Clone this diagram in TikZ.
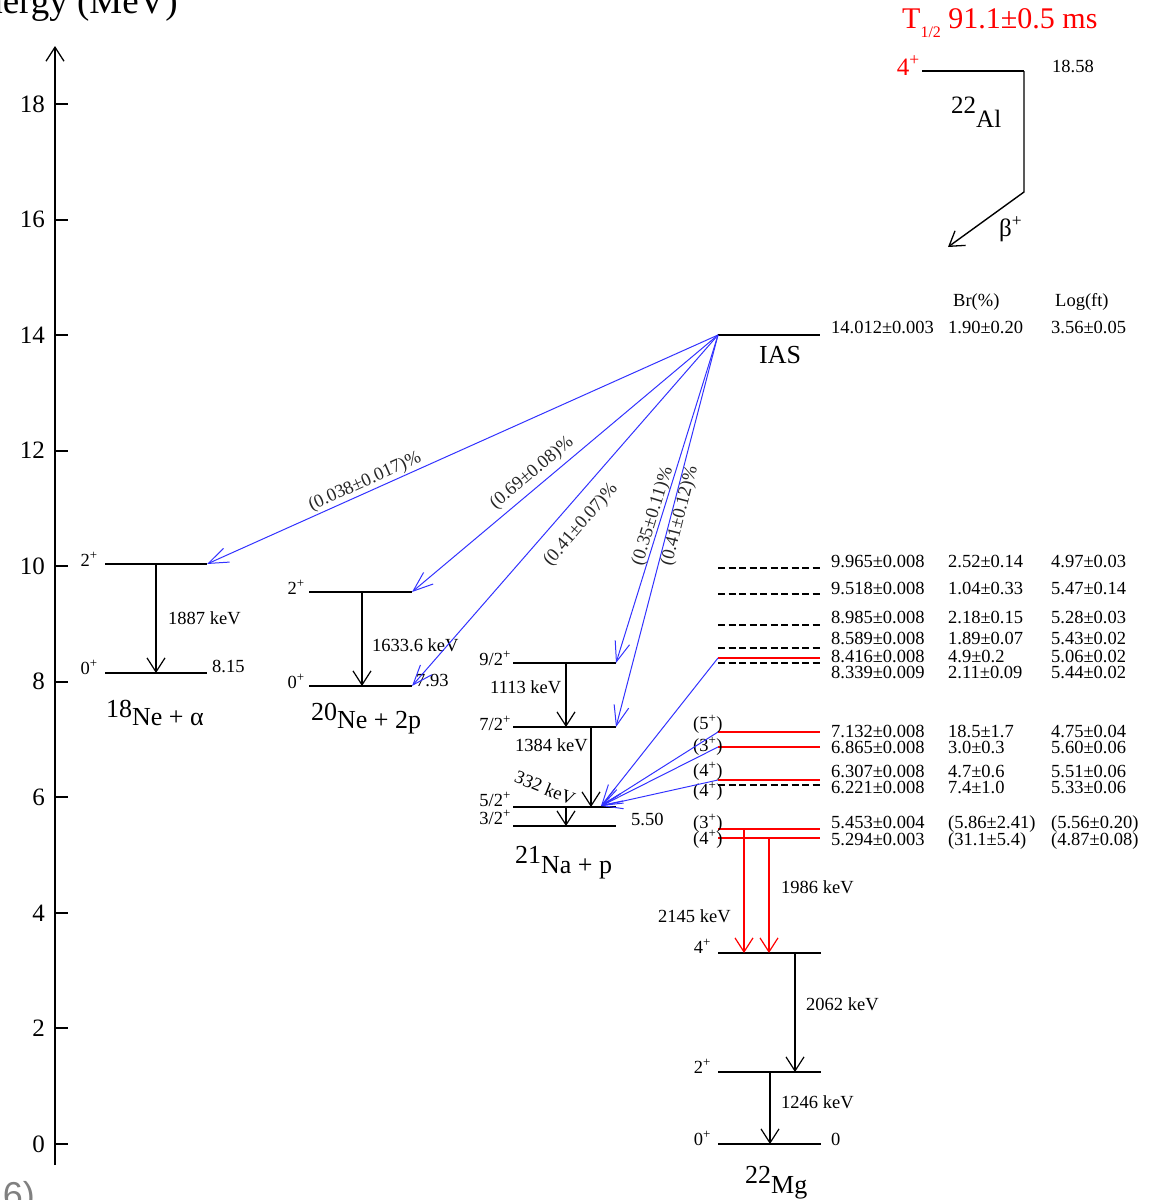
\documentclass[tikz,border=0pt]{standalone}
\usepackage{fontspec}
\setmainfont{Liberation Serif}
\newfontfamily\greysans{Liberation Sans}
\usetikzlibrary{arrows.meta}
\definecolor{bl}{RGB}{50,50,255}
\definecolor{rd}{RGB}{255,0,0}
\newcommand\szS{\fontsize{18.5}{19}\selectfont}
\newcommand\szT{\fontsize{25}{25}\selectfont}
\newcommand\szL{\fontsize{26}{26}\selectfont}
\newcommand\spn[1]{#1\textsuperscript{+}}
\newcommand\isot[3]{\raisebox{#3}{#1}#2}
\begin{document}
\begin{tikzpicture}[x=1pt,y=-1pt,
  tx/.style={inner sep=0pt, font=\szS},
  big/.style={inner sep=0pt, font=\szL},
  lvl/.style={line width=1.5pt},
  dlvl/.style={line width=1.5pt, dash pattern=on 7pt off 3.5pt},
  rlvl/.style={line width=2pt, draw=rd},
  gam/.style={line width=1.2pt, -{Straight Barb[length=14pt,width=18pt,line width=1.2pt]}},
  rgam/.style={gam, draw=rd},
  bdec/.style={line width=1pt, draw=bl, -{Straight Barb[length=20pt,width=15pt,line width=1pt]}},
  blab/.style={inner sep=0pt, font=\szS, text=black!85},
]
\useasboundingbox (0,0) rectangle (1149,1200);
\clip (0,0) rectangle (1149,1200);

% ---------- axis ----------
\node[inner sep=0pt, font=\fontsize{37}{37}\selectfont, anchor=base east] (axt) at (178,13) {Energy (MeV)};
\coordinate (ax0) at (55,1165);
\coordinate (ax1) at (55,46);
\draw[line width=1.5pt, -{Straight Barb[length=14pt,width=18pt,line width=1.3pt]}] (ax0) -- (ax1);
\foreach \e in {0,2,...,18}{
  \draw[line width=1.5pt] (55,{round(1144-57.78*\e)}) -- (68,{round(1144-57.78*\e)});
  \node[inner sep=0pt, font=\szT, anchor=east] (tk\e) at (45,{1144-57.78*\e}) {\e};
}
\node[inner sep=0pt, font=\greysans\fontsize{36}{36}\selectfont, text=black!50, anchor=base east] (g6) at (35,1207) {6)};

% ---------- 22Al ----------
\node[inner sep=0pt, font=\fontsize{30}{30}\selectfont, text=rd, anchor=base west] (thalf) at (902,28)
  {T\raisebox{-9pt}{\fontsize{16}{16}\selectfont 1/2} 91.1±0.5 ms};
\node[inner sep=0pt, font=\fontsize{25}{25}\selectfont, text=rd, anchor=base east] (alsp) at (920,75) {\spn{4}};
\coordinate (al-l) at (922,71);
\coordinate (al-r) at (1024,71);
\coordinate (al-c) at (1024,192);
\coordinate (al-t) at (948,247);
\draw[lvl] (al-l) -- (al-r);
\draw[line width=1.4pt, -{Straight Barb[length=14pt,width=18pt,line width=1.3pt]}] (al-r) -- (al-c) -- (al-t);
\node[tx, anchor=base west] (ale) at (1052,72) {18.58};
\node[inner sep=0pt, font=\fontsize{25}{25}\selectfont, anchor=base west] (alname) at (951,127) {\isot{22}{Al}{14pt}};
\node[inner sep=0pt, font=\fontsize{25}{25}\selectfont, anchor=base west] (beta) at (999,236) {β\textsuperscript{+}};

% ---------- IAS ----------
\coordinate (ias-l) at (718,335);
\coordinate (ias-r) at (820,335);
\draw[lvl] (ias-l) -- (ias-r);
\node[big, anchor=base west] (iasn) at (759,363) {IAS};
\node[tx, anchor=base west] (hbr) at (953,306) {Br(\%)};
\node[tx, anchor=base west] (hlg) at (1055,306) {Log(ft)};
\node[tx, anchor=base west] (iase) at (831,333) {14.012±0.003};
\node[tx, anchor=base west] (iasb) at (948,333) {1.90±0.20};
\node[tx, anchor=base west] (iasg) at (1051,333) {3.56±0.05};

% ---------- 22Mg levels above threshold ----------
\foreach \n/\yy/\st in {a/568/dlvl, b/594/dlvl, c/625/dlvl, d/648/dlvl, e/658/rlvl, f/663/dlvl,
                        g/732/rlvl, h/747/rlvl, i/780/rlvl, j/785/dlvl, k/829/rlvl, m/838/rlvl}{
  \coordinate (L\n) at (718,\yy);
  \coordinate (R\n) at (820,\yy);
  \draw[\st] (L\n) -- (R\n);
}
\foreach \yy/\en/\br/\lg [count=\i] in {
   567/9.965±0.008/2.52±0.14/4.97±0.03,
   594/9.518±0.008/1.04±0.33/5.47±0.14,
   623/8.985±0.008/2.18±0.15/5.28±0.03,
   644/8.589±0.008/1.89±0.07/5.43±0.02,
   662/8.416±0.008/4.9±0.2/5.06±0.02,
   678/8.339±0.009/2.11±0.09/5.44±0.02,
   737/7.132±0.008/18.5±1.7/4.75±0.04,
   753/6.865±0.008/3.0±0.3/5.60±0.06,
   777/6.307±0.008/4.7±0.6/5.51±0.06,
   793/6.221±0.008/7.4±1.0/5.33±0.06,
   828/5.453±0.004/(5.86±2.41)/(5.56±0.20),
   845/5.294±0.003/(31.1±5.4)/(4.87±0.08)}{
  \node[tx, anchor=base west] (te\i) at (831,\yy) {\en};
  \node[tx, anchor=base west] (tb\i) at (948,\yy) {\br};
  \node[tx, anchor=base west] (tl\i) at (1051,\yy) {\lg};
}
\foreach \yy/\s [count=\i] in {729/5, 751/3, 776/4, 796/4, 828/3, 844/4}{
  \node[tx, anchor=base west] (sp\i) at (693,\yy) {(\spn{\s})};
}

% ---------- 22Mg bound levels ----------
\coordinate (mg4l) at (718,953); \coordinate (mg4r) at (821,953);
\coordinate (mg2l) at (718,1072);  \coordinate (mg2r) at (821,1072);
\coordinate (mg0l) at (718,1144);  \coordinate (mg0r) at (821,1144);
\draw[lvl] (mg4l) -- (mg4r);
\draw[lvl] (mg2l) -- (mg2r);
\draw[lvl] (mg0l) -- (mg0r);
\node[tx, anchor=base east] (mgs4) at (711,953) {\spn{4}};
\node[tx, anchor=base east] (mgs2) at (711,1073) {\spn{2}};
\node[tx, anchor=base east] (mgs0) at (711,1145) {\spn{0}};
\node[tx, anchor=base west] (mge0) at (831,1145) {0};
\node[inner sep=0pt, font=\fontsize{26}{26}\selectfont, anchor=base west] (mgname) at (745,1193) {\isot{22}{Mg}{10pt}};
\coordinate (rg1s) at (744,829); \coordinate (rg1e) at (744,953);
\coordinate (rg2s) at (769,838); \coordinate (rg2e) at (769,953);
\draw[rgam] (rg1s) -- (rg1e);
\draw[rgam] (rg2s) -- (rg2e);
\node[tx, anchor=base west] (g1986) at (781,893) {1986 keV};
\node[tx, anchor=base west] (g2145) at (658,922) {2145 keV};
\coordinate (g1s) at (795,953); \coordinate (g1e) at (795,1072);
\coordinate (g2s) at (770,1072);  \coordinate (g2e) at (770,1144);
\draw[gam] (g1s) -- (g1e);
\draw[gam] (g2s) -- (g2e);
\node[tx, anchor=base west] (g2062) at (806,1010) {2062 keV};
\node[tx, anchor=base west] (g1246) at (781,1108) {1246 keV};

% ---------- 18Ne + alpha ----------
\coordinate (n18a) at (105,564); \coordinate (n18b) at (207,564);
\coordinate (n18c) at (105,673); \coordinate (n18d) at (207,673);
\draw[lvl] (n18a) -- (n18b);
\draw[lvl] (n18c) -- (n18d);
\coordinate (n18s) at (156,564); \coordinate (n18e) at (156,673);
\draw[gam] (n18s) -- (n18e);
\node[tx, anchor=base west] (n18g) at (168,624) {1887 keV};
\node[tx, anchor=base east] (n18s2) at (98,566) {\spn{2}};
\node[tx, anchor=base east] (n18s0) at (98,674) {\spn{0}};
\node[tx, anchor=base west] (n18en) at (212,672) {8.15};
\node[big, anchor=base west] (n18name) at (106,725) {\isot{18}{Ne + α}{8pt}};

% ---------- 20Ne + 2p ----------
\coordinate (n20a) at (309,592); \coordinate (n20b) at (412,592);
\coordinate (n20c) at (309,686); \coordinate (n20d) at (412,686);
\draw[lvl] (n20a) -- (n20b);
\draw[lvl] (n20c) -- (n20d);
\coordinate (n20s) at (362,592); \coordinate (n20e) at (362,686);
\draw[gam] (n20s) -- (n20e);
\node[tx, anchor=base west] (n20g) at (372,651) {1633.6 keV};
\node[tx, anchor=base east] (n20s2) at (305,594) {\spn{2}};
\node[tx, anchor=base east] (n20s0) at (305,688) {\spn{0}};
\node[tx, anchor=base west] (n20en) at (416,686) {7.93};
\node[big, anchor=base west] (n20name) at (311,728) {\isot{20}{Ne + 2p}{8pt}};

% ---------- 21Na + p ----------
\coordinate (na9l) at (513,663); \coordinate (na9r) at (616,663);
\coordinate (na7l) at (513,727); \coordinate (na7r) at (616,727);
\coordinate (na5l) at (513,807); \coordinate (na5r) at (616,807);
\coordinate (na3l) at (513,826); \coordinate (na3r) at (616,826);
\draw[lvl] (na9l) -- (na9r);
\draw[lvl] (na7l) -- (na7r);
\draw[lvl] (na5l) -- (na5r);
\draw[lvl] (na3l) -- (na3r);
\node[tx, anchor=base east] (nas9) at (511,665) {9/\spn{2}};
\node[tx, anchor=base east] (nas7) at (511,730) {7/\spn{2}};
\node[tx, anchor=base east] (nas5) at (511,806) {5/\spn{2}};
\node[tx, anchor=base east] (nas3) at (511,824) {3/\spn{2}};
\coordinate (ng1s) at (566,663); \coordinate (ng1e) at (566,727);
\coordinate (ng2s) at (591,727); \coordinate (ng2e) at (591,807);
\coordinate (ng3s) at (566,807); \coordinate (ng3e) at (566,826);
\draw[gam] (ng1s) -- (ng1e);
\draw[gam] (ng2s) -- (ng2e);
\draw[gam] (ng3s) -- (ng3e);
\node[tx, anchor=base west] (nag1) at (490,693) {1113 keV};
\node[tx, anchor=base west] (nag2) at (515,751) {1384 keV};
\node[tx, rotate=-22] (nag3) at (545,788) {332 keV};
\node[tx, anchor=base west] (naen) at (631,825) {5.50};
\node[big, anchor=base west] (naname) at (515,873) {\isot{21}{Na + p}{10pt}};
\coordinate (na52t) at (601,806);

% ---------- blue decays ----------
\draw[bdec] (ias-l) -- (n18b);
\draw[bdec] (ias-l) -- (n20b);
\draw[bdec] (ias-l) -- (n20d);
\draw[bdec] (ias-l) -- (na9r);
\draw[bdec] (ias-l) -- (na7r);
\draw[bdec] (Le) -- (na52t);
\draw[bdec] (Lg) -- (na52t);
\draw[bdec] (Lh) -- (na52t);
\draw[bdec] (Li) -- (na52t);
\node[blab, rotate=24.2] (bl1) at (365,482) {(0.038±0.017)\%};
\node[blab, rotate=40.1] (bl2) at (532,473) {(0.69±0.08)\%};
\node[blab, rotate=49]   (bl3) at (581,525) {(0.41±0.07)\%};
\node[blab, rotate=72.8] (bl4) at (653,516) {(0.35±0.11)\%};
\node[blab, rotate=75.5] (bl5) at (680,516) {(0.41±0.12)\%};
\end{tikzpicture}
\end{document}
